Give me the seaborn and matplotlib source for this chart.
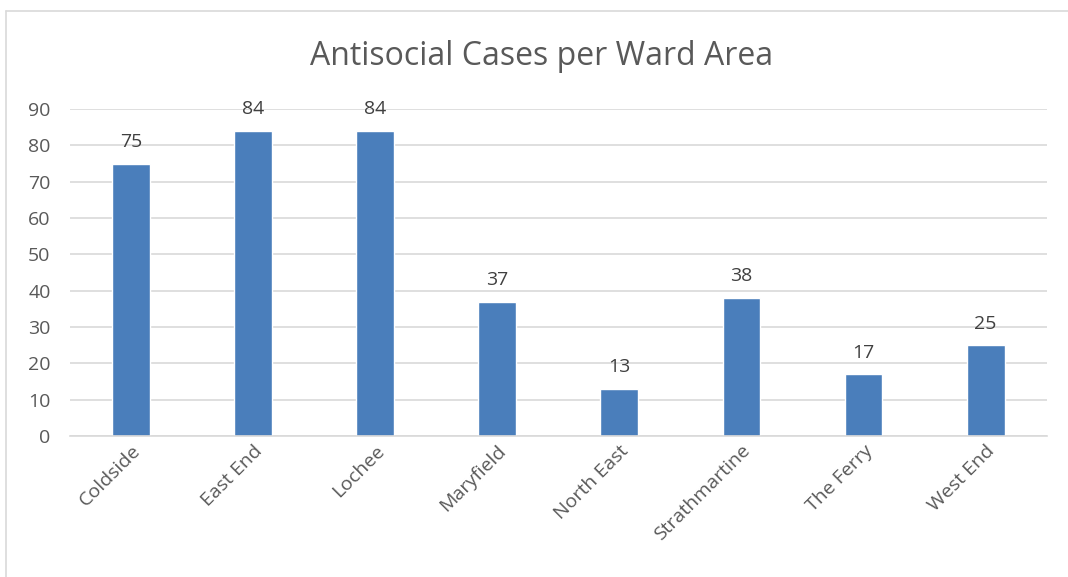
from matplotlib import pyplot as plt
import seaborn as sns
import pandas as pd

wards = ["Coldside", "East End", "Lochee", "Maryfield", "North East",
         "Strathmartine", "The Ferry", "West End"]
cases = [75, 84, 84, 37, 13, 38, 17, 25]

df = pd.DataFrame({"ward": wards, "cases": cases})

sns.set_style("white")
plt.rcParams['font.family'] = ['Open Sans', 'DejaVu Sans']

fig = plt.figure(figsize=(10.68, 5.77), dpi=100)
ax = fig.add_axes([0.0655, 0.2444, 0.9145, 0.5666])

sns.barplot(data=df, x="ward", y="cases", color="#4a7ebb", saturation=1,
            width=0.31, ax=ax)

ax.set_ylim(0, 90)
ax.set_yticks(range(0, 91, 10))
ax.yaxis.grid(True, color="#d9d9d9", linewidth=1.2)
ax.set_axisbelow(True)
for s in ["left", "right", "top"]:
    ax.spines[s].set_visible(False)
ax.spines["bottom"].set_color("#d9d9d9")
ax.spines["bottom"].set_linewidth(1.2)
ax.set_xlabel("")
ax.set_ylabel("")
ax.tick_params(axis="y", length=0, labelsize=14, labelcolor="#595959", pad=14)
ax.tick_params(axis="x", length=0, labelsize=14, labelcolor="#595959", pad=4)
plt.setp(ax.get_xticklabels(), rotation=45, ha="right", rotation_mode="anchor")

for c in ax.containers:
    ax.bar_label(c, fontsize=14, color="#404040", padding=9)

fig.text(0.507, 0.902, "Antisocial Cases per Ward Area", ha="center", va="center",
         fontsize=23, color="#595959")

# chart border (left and top edges visible)
fig.add_artist(plt.Line2D([6/1068, 6/1068], [0, 1 - 11/577], color="#d9d9d9",
                          linewidth=1.2, transform=fig.transFigure))
fig.add_artist(plt.Line2D([6/1068, 1], [1 - 11/577, 1 - 11/577], color="#d9d9d9",
                          linewidth=1.2, transform=fig.transFigure))

plt.savefig("out.png")
